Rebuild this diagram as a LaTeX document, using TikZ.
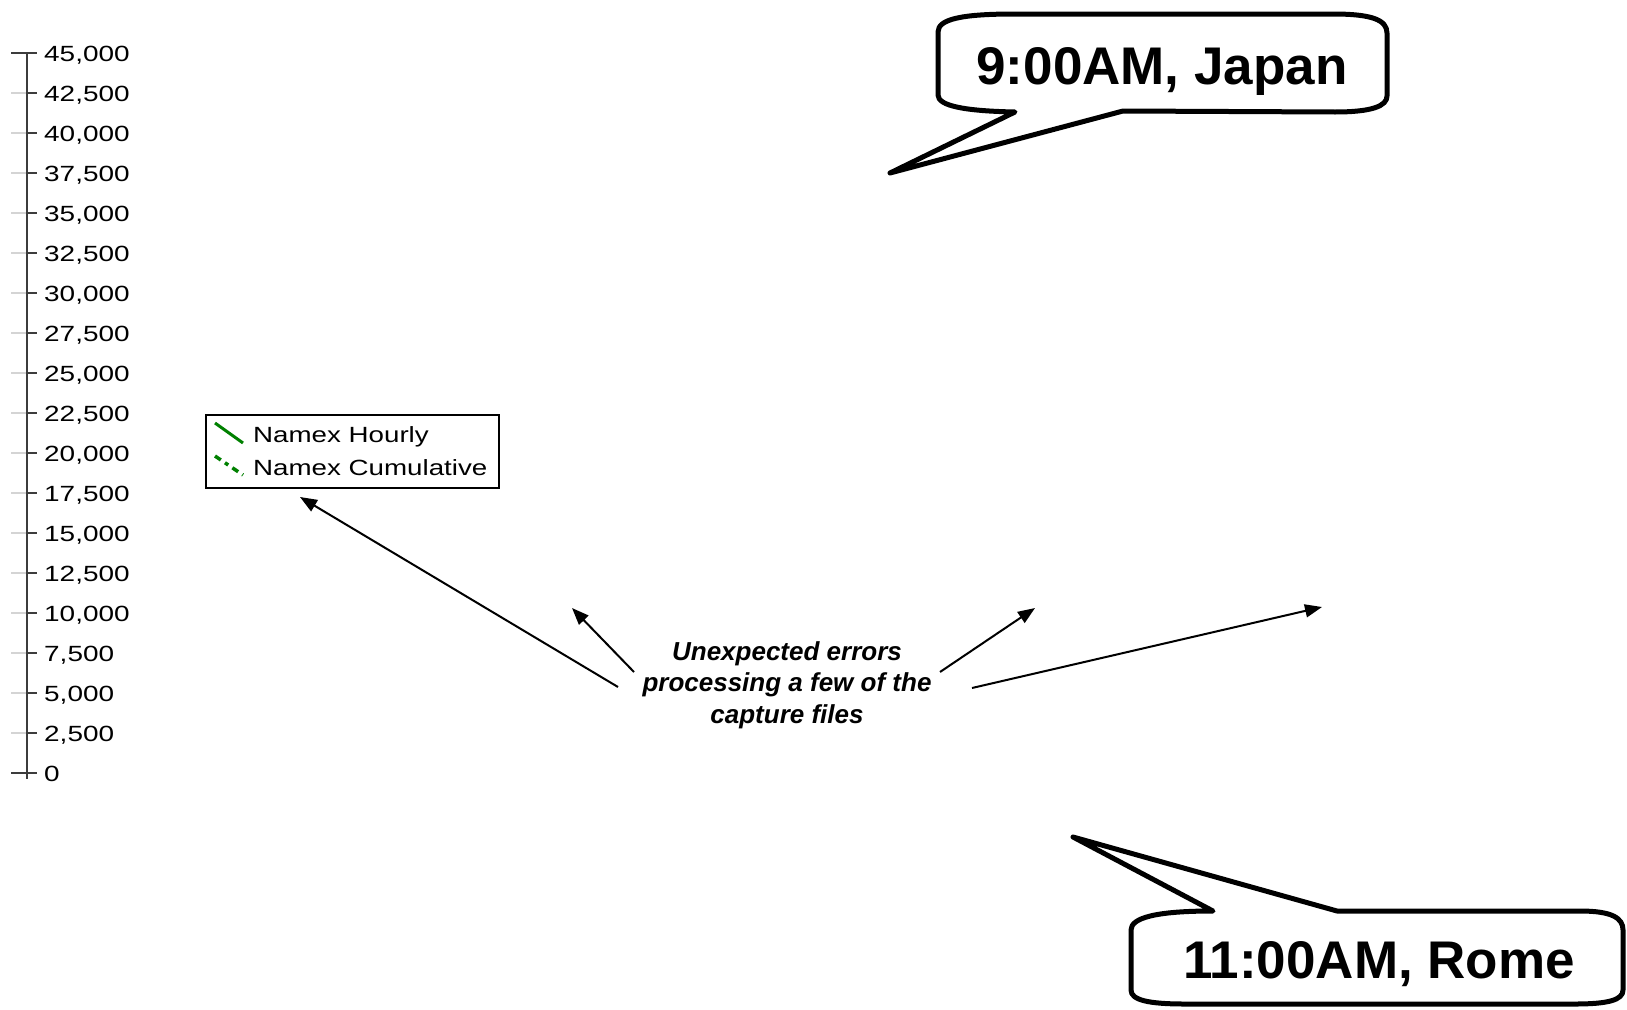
\documentclass[tikz,border=0pt]{standalone}
\usepackage{fontspec}
\setmainfont{Liberation Sans}
\usetikzlibrary{arrows.meta}
\definecolor{axisgrey}{RGB}{60,60,60}
\definecolor{tickgrey}{RGB}{212,212,212}
\definecolor{namexgreen}{RGB}{0,128,0}
\begin{document}
\begin{tikzpicture}[x=1pt,y=-1pt,
  ticklabel/.style={anchor=base west, inner sep=0pt, font=\fontsize{22}{26}\selectfont},
  legendtext/.style={anchor=base west, inner sep=0pt, font=\fontsize{22}{26}\selectfont},
  legendbox/.style={draw=black, line width=1.5pt, inner sep=0pt, anchor=north west, minimum width=293pt, minimum height=73pt},
  callout/.style={draw=black, line width=5pt, line join=round, fill=white},
  callouttext/.style={anchor=base, inner sep=0pt, font=\fontsize{53}{60}\selectfont\bfseries},
  note/.style={align=center, inner sep=0pt, font=\fontsize{26}{31.5}\selectfont\bfseries\itshape},
  pointer/.style={line width=2pt, -{Triangle[length=17pt,width=13pt]}},
  majortick/.style={axisgrey, line width=1.5pt},
  minortick/.style={tickgrey, line width=1.5pt},
]
\useasboundingbox (0,0) rectangle (1627,1009);

% ---- axis ----
\foreach \lab [count=\i from 0] in {{45,000},{42,500},{40,000},{37,500},{35,000},{32,500},{30,000},{27,500},{25,000},{22,500},{20,000},{17,500},{15,000},{12,500},{10,000},{7,500},{5,000},{2,500},{0}} {
  \draw[minortick] (11,{53+40*\i}) -- (26,{53+40*\i});
  \draw[majortick] (27,{53+40*\i}) -- (37,{53+40*\i});
  \node[ticklabel] (tick\i) at (44,{53+40*\i+8}) {\scalebox{1.27}[1]{\lab}};
}
\draw[majortick] (11,53) -- (27,53);
\draw[majortick] (11,773) -- (27,773);
\draw[axisgrey, line width=2pt] (27,53) -- (27,779);

% ---- legend ----
\node[legendbox] (legend) at (205,414) {};
\draw[namexgreen, line width=3pt] (215,423) -- (243,443);
\draw[namexgreen, line width=3.5pt, dash pattern=on 7pt off 5pt on 4pt off 5pt] (215,456) -- (243,475);
\node[legendtext] (hourly) at (253,442) {\scalebox{1.26}[1]{Namex Hourly}};
\node[legendtext] (cumul) at (253,475) {\scalebox{1.26}[1]{Namex Cumulative}};

% ---- note and pointers ----
\node[note] (note) at (787,685) {Unexpected errors\\processing a few of the\\capture files};
\coordinate (t1) at (618,687); \coordinate (h1) at (300,497);
\coordinate (t2) at (634,672); \coordinate (h2) at (572,608);
\coordinate (t3) at (940,672); \coordinate (h3) at (1035,608);
\coordinate (t4) at (972,688); \coordinate (h4) at (1322,607);
\draw[pointer] (t1) -- (h1);
\draw[pointer] (t2) -- (h2);
\draw[pointer] (t3) -- (h3);
\draw[pointer] (t4) -- (h4);

% ---- Japan callout ----
\draw[callout] (938,32) .. controls (938,19) and (962,14) .. (1015,14)
  -- (1333,14) .. controls (1372,14) and (1387,20) .. (1387,33)
  -- (1387,96) .. controls (1387,106) and (1372,112) .. (1335,112)
  -- (1123,111) -- (890,173) -- (1015,112)
  .. controls (965,111) and (938,106) .. (938,95) -- cycle;
\node[callouttext] (japan) at (1162,84) {9:00AM, Japan};

% ---- Rome callout ----
\draw[callout] (1131,930) .. controls (1131,918) and (1155,911) .. (1213,911)
  -- (1073,837) -- (1337,911)
  -- (1580,911) .. controls (1612,911) and (1623,918) .. (1623,930)
  -- (1623,990) .. controls (1623,1000) and (1608,1004) .. (1575,1004)
  -- (1185,1004) .. controls (1148,1004) and (1131,1000) .. (1131,990) -- cycle;
\node[callouttext] (rome) at (1379,978) {11:00AM, Rome};
\end{tikzpicture}
\end{document}
